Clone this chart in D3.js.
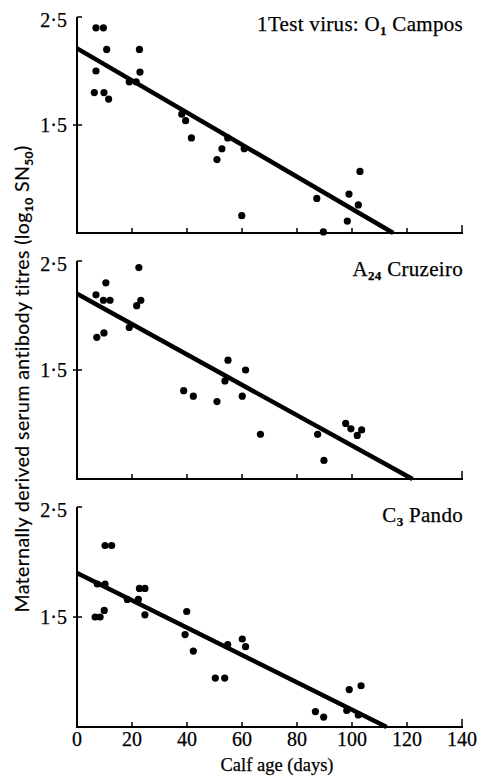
<!DOCTYPE html>
<html>
<head>
<meta charset="utf-8">
<script src="https://cdn.jsdelivr.net/npm/d3@7"></script>
<style>
  body { margin: 0; background: #fff; }
  text { font-family: "Liberation Serif", "Times New Roman", serif; fill: #000; stroke: #000; stroke-width: 0.25px; }
</style>
</head>
<body>
<div id="chart"></div>
<script>
// x ticks (days) and y ticks (log10 SN50)
var xTicks = [0, 20, 40, 60, 80, 100, 120, 140];
var yTicks = [1.5, 2.5];

// O1 Campos: [day, titre]
var o1Points = [
  [6.9, 2.40], [9.6, 2.40], [10.8, 2.20], [6.9, 2.00], [6.3, 1.80], [9.8, 1.80],
  [11.5, 1.74], [19.0, 1.90], [21.5, 1.90], [22.7, 2.20], [22.9, 1.99],
  [38.1, 1.60], [39.5, 1.54], [41.6, 1.38], [50.9, 1.18], [52.7, 1.28],
  [54.8, 1.38], [60.8, 1.28], [59.9, 0.66], [87.2, 0.82], [89.6, 0.51],
  [98.3, 0.61], [98.9, 0.86], [102.3, 0.76], [102.9, 1.07]
];
// A24 Cruzeiro
var a24Points = [
  [6.9, 2.19], [10.5, 2.30], [9.6, 2.14], [12.0, 2.14], [7.2, 1.80], [9.8, 1.84],
  [19.0, 1.89], [21.7, 2.09], [23.2, 2.14], [22.5, 2.44], [38.8, 1.31],
  [42.3, 1.26], [50.9, 1.21], [53.8, 1.40], [54.9, 1.59], [60.1, 1.26],
  [61.3, 1.50], [66.7, 0.91], [87.5, 0.91], [89.8, 0.67], [97.7, 1.01],
  [99.6, 0.96], [101.9, 0.90], [103.5, 0.95]
];
// C3 Pando
var c3Points = [
  [6.6, 1.50], [8.4, 1.50], [7.4, 1.80], [10.2, 1.80], [9.9, 1.56], [10.2, 2.15],
  [12.6, 2.15], [18.3, 1.66], [22.3, 1.66], [22.7, 1.76], [24.7, 1.76],
  [24.7, 1.52], [39.9, 1.55], [39.3, 1.34], [42.3, 1.19], [50.3, 0.945],
  [53.7, 0.945], [54.8, 1.25], [60.1, 1.30], [61.3, 1.23], [86.7, 0.64],
  [89.7, 0.59], [98.1, 0.65], [99.0, 0.84], [102.3, 0.61], [103.3, 0.875]
];
// fitted lines: [day, titre] at start and end
var o1Line = [[0, 2.21], [115, 0.5]];
var a24Line = [[0, 2.20], [122, 0.5]];
var c3Line = [[0, 1.90], [112.6, 0.5]];

var panels = [
  { points: o1Points, line: o1Line, top: 17, bottom: 233, titleY: 31,
    title: [["1Test virus: O", false], ["1", true], [" Campos", false]] },
  { points: a24Points, line: a24Line, top: 261, bottom: 479, titleY: 276,
    title: [["A", false], ["24", true], [" Cruzeiro", false]] },
  { points: c3Points, line: c3Line, top: 507, bottom: 727, titleY: 522,
    title: [["C", false], ["3", true], [" Pando", false]] }
];

var width = 479, height = 779;
var svg = d3.select("#chart").append("svg")
  .attr("width", width)
  .attr("height", height);

var x = d3.scaleLinear().domain([0, 140]).range([77, 462]);

function fmt(v) { return d3.format(".1f")(v).replace(".", "\u00b7"); }

panels.forEach(function(p, i) {
  var y = d3.scaleLinear().domain([0.5, 2.5]).range([p.bottom, p.top]);
  var g = svg.append("g");

  // y axis line
  g.append("line")
    .attr("x1", x(0)).attr("x2", x(0))
    .attr("y1", y(2.5)).attr("y2", y(0.5))
    .attr("stroke", "#000").attr("stroke-width", 2);
  // x axis line
  g.append("line")
    .attr("x1", x(0) - 1).attr("x2", x(140) + 1)
    .attr("y1", y(0.5)).attr("y2", y(0.5))
    .attr("stroke", "#000").attr("stroke-width", 2);

  // x ticks pointing up
  g.selectAll(".xt").data(xTicks.slice(1)).enter().append("line")
    .attr("x1", function(d) { return x(d); })
    .attr("x2", function(d) { return x(d); })
    .attr("y1", y(0.5))
    .attr("y2", function(d) { return y(0.5) - (d === 140 ? 8 : 5); })
    .attr("stroke", "#000").attr("stroke-width", 1.5);

  // y ticks
  g.selectAll(".yt").data(yTicks).enter().append("line")
    .attr("x1", function(d) { return d === 2.5 ? x(0) : x(0) - 4; })
    .attr("x2", x(0) + 5)
    .attr("y1", function(d) { return y(d); })
    .attr("y2", function(d) { return y(d); })
    .attr("stroke", "#000").attr("stroke-width", 1.5);

  g.selectAll(".yl").data(yTicks).enter().append("text")
    .attr("x", x(0) - 10)
    .attr("y", function(d) { return y(d); })
    .attr("dy", function(d) { return d === 2.5 ? "0.5em" : "0.35em"; })
    .attr("text-anchor", "end")
    .attr("font-size", 20)
    .text(fmt);

  // regression line
  g.append("line")
    .attr("x1", x(p.line[0][0])).attr("y1", y(p.line[0][1]))
    .attr("x2", x(p.line[1][0])).attr("y2", y(p.line[1][1]))
    .attr("stroke", "#000").attr("stroke-width", 4.5);

  // points
  g.selectAll(".pt").data(p.points).enter().append("circle")
    .attr("cx", function(d) { return x(d[0]); })
    .attr("cy", function(d) { return y(d[1]); })
    .attr("r", 3.6)
    .attr("fill", "#000");

  // panel title
  var t = g.append("text")
    .attr("x", 463)
    .attr("y", p.titleY)
    .attr("text-anchor", "end")
    .attr("font-size", 21)
    .style("letter-spacing", "0.3px");
  p.title.forEach(function(part, k) {
    var ts = t.append("tspan").text(part[0]);
    if (part[1]) {
      ts.attr("font-size", 13).attr("font-weight", "bold").attr("dy", 4);
    } else if (k > 0) {
      ts.attr("dy", -4);
    }
  });

  // x tick labels on bottom panel only
  if (i === panels.length - 1) {
    g.selectAll(".xl").data(xTicks).enter().append("text")
      .attr("x", function(d) { return x(d); })
      .attr("y", p.bottom + 19)
      .attr("text-anchor", "middle")
      .attr("font-size", 20)
      .text(function(d) { return d; });
  }
});

// axis titles
svg.append("text")
  .attr("x", 277)
  .attr("y", 771)
  .attr("text-anchor", "middle")
  .attr("font-size", 18.5)
  .text("Calf age (days)");

var yl = svg.append("text")
  .attr("transform", "translate(29,379) rotate(-90)")
  .attr("text-anchor", "middle")
  .attr("font-size", 19.5)
  .style("font-family", "Lato, 'Noto Sans', sans-serif")
  .style("stroke-width", "0.15px")
  .style("letter-spacing", "0.4px");
yl.append("tspan").text("Maternally derived serum antibody titres (log");
yl.append("tspan").attr("font-size", 12).attr("font-weight", "bold").attr("dy", 4).text("10");
yl.append("tspan").attr("dy", -4).text(" SN");
yl.append("tspan").attr("font-size", 12).attr("font-weight", "bold").attr("dy", 4).text("50");
yl.append("tspan").attr("dy", -4).text(")");
</script>
</body>
</html>
